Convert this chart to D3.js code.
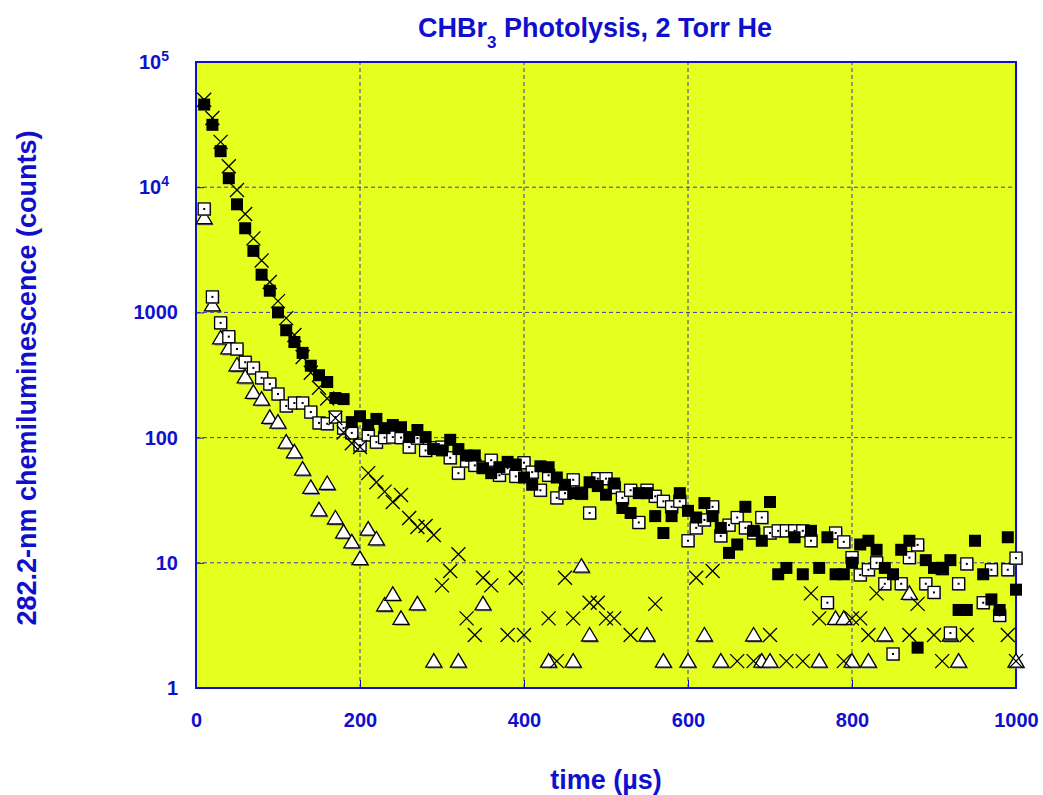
<!DOCTYPE html>
<html>
<head>
<meta charset="utf-8">
<script src="https://cdn.jsdelivr.net/npm/d3@7"></script>
<style>
  body { margin: 0; background: #fff; }
  svg text { font-family: "Liberation Sans", Arial, sans-serif; font-weight: bold; fill: #1010cc; }
</style>
</head>
<body>
<div id="chart"></div>
<script>
// time axis, µs (one point every 10 µs)
const times = d3.range(10, 1001, 10)

// filled squares
const filledSq = [45700, 31500, 19400, 11800, 7300, 4700, 3100, 2000, 1490, 1000,
  720, 580, 475, 375, 315, 278, 207, 203, 133, 148,
  126, 141, 119, 126, 121, 101, 115, 101, 81, 79,
  96, 81, 72, 72, 57, 52, 58, 64, 61, 48,
  42, 59, 58, 48, 42, 36, 36, 44, 41, 35,
  43, 27.4, 25, 36, 36, 23.6, 17.3, 23.6, 36, 26,
  23, 30, 23.6, 19, 12, 14, 28, 18, 15, 30.6,
  8.1, 9.1, 16, 8.1, 18, 9.1, 16, 8.1, 8.1, 10,
  14, 15, 12.7, 9.1, 8.1, 12.7, 15, 2.1, 10.5, 9.1,
  9.1, 10.5, 4.2, 4.2, 15, 8.1, 5.1, 4.2, 16, 6.1]

// open squares with a dot
const openSq = [6700, 1330, 825, 640, 510, 400, 360, 300, 268, 223,
  179, 189, 189, 160, 131, 129, 146, 119, 109, 87,
  105, 92, 100, 101, 100, 84, 99, 79, 83, 84,
  69, 52, 65, 60, 58, 66, 50, 57, 49, 63,
  53, 38, 50, 33, 36, 46, 36, 25, 47, 47,
  40, 33, 38, 21, 38, 34, 31, 28, 31, 15,
  19, 22, 28, 16.4, 20, 23, 19, 17.3, 23, 17.3,
  18, 18, 18, 18, 15, null, 4.8, 17.3, 14.7, 11,
  8, 8.8, 10, 6.8, 1.87, 6.8, 11, 13.9, 6.8, 5.8,
  9, 2.75, 6.8, 9.8, null, 4.8, 8.8, 3.8, 8.8, 10.9]

// open triangles
const triangles = [5700, 1150, 625, 520, 380, 305, 230, 203, 145, 133,
  92, 77, 56, 40, 26.5, 43, 22.8, 17.6, 14.7, 10.8,
  18.6, 15.5, 4.6, 5.6, 3.6, null, 4.7, null, 1.64, null,
  null, 1.64, null, null, 4.7, null, null, null, null, null,
  null, null, 1.64, null, null, 1.64, 9.4, 2.65, null, null,
  null, null, null, null, 2.65, null, 1.64, null, null, 1.64,
  null, 2.65, null, 1.64, null, null, null, 2.65, 1.64, 1.64,
  null, null, null, null, null, 1.64, null, 3.6, 3.6, 1.64,
  null, 1.64, null, 2.65, null, null, 5.7, null, null, null,
  null, 2.65, 1.64, null, null, null, null, null, null, 1.64]

// crosses
const crosses = [50000, 35700, 23000, 14700, 9500, 6100, 3900, 2600, 1750, 1230,
  900, 660, 440, 330, 250, 205, 143, 110, 90, 84,
  52, 44, 37, 30.6, 34.8, 22.8, 19.3, 19.7, 16.7, 6.6,
  8.6, 11.7, 3.6, 2.65, 7.6, 6.6, null, 2.65, 7.6, 2.65,
  null, null, 3.6, 1.64, 7.6, 3.6, null, 4.8, 4.8, 3.6,
  3.6, null, 2.65, null, null, 4.7, null, null, null, null,
  7.6, null, 8.6, null, null, 1.64, null, 1.64, null, 2.65,
  null, 1.64, null, 1.64, 5.7, 3.6, null, null, 1.64, 3.6,
  3.6, 2.65, 5.7, null, null, null, 2.65, 4.7, null, 2.65,
  1.64, null, null, 2.65, null, null, null, null, 2.65, 1.64]

const xTicks = [0, 200, 400, 600, 800, 1000]
const yTicks = [1, 10, 100, 1000, 1e4, 1e5]

const blue = '#1010cc'
const width = 1043
const height = 795
const margin = { left: 196, right: 27, top: 62, bottom: 107 }

const svg = d3.select('#chart')
  .append('svg')
  .attr('width', width)
  .attr('height', height)

const x = d3.scaleLinear().domain([0, 1000]).range([margin.left, width - margin.right])
const y = d3.scaleLog().domain([1, 1e5]).range([height - margin.bottom, margin.top])

// plot background
svg.append('rect')
  .attr('x', x(0)).attr('y', y(1e5))
  .attr('width', x(1000) - x(0)).attr('height', y(1) - y(1e5))
  .attr('fill', '#e5ff1f')

// grid
const grid = svg.append('g').attr('stroke', '#3b3ba0').attr('stroke-width', 1).attr('stroke-dasharray', '4,3')
grid.selectAll('.gx').data(xTicks.slice(1, -1)).enter().append('line')
  .attr('x1', d => x(d)).attr('x2', d => x(d))
  .attr('y1', y(1)).attr('y2', y(1e5))
grid.selectAll('.gy').data(yTicks.slice(1, -1)).enter().append('line')
  .attr('x1', x(0)).attr('x2', x(1000))
  .attr('y1', d => y(d)).attr('y2', d => y(d))

// axes
const xAxis = svg.append('g')
  .attr('transform', `translate(0,${y(1)})`)
  .call(d3.axisBottom(x).tickValues(xTicks).tickSize(-8).tickPadding(25).tickFormat(d3.format('d')))
xAxis.select('.domain').remove()
xAxis.selectAll('line').attr('stroke', blue)
xAxis.selectAll('text').attr('font-size', 20).attr('fill', blue)

const yAxis = svg.append('g')
  .attr('transform', `translate(${x(0)},0)`)
  .call(d3.axisLeft(y).tickValues(yTicks).tickSize(-8).tickPadding(18).tickFormat(d => d >= 1e4 ? '10' : String(d)))
yAxis.select('.domain').remove()
yAxis.selectAll('line').attr('stroke', blue)
yAxis.selectAll('text').attr('font-size', 20).attr('fill', blue).attr('dx', d => d >= 1e4 ? -9 : 0)
yAxis.selectAll('text').filter(d => d >= 1e4)
  .append('tspan')
  .attr('dy', '-0.6em')
  .attr('font-size', 14)
  .text(d => Math.round(Math.log10(d)))

// frame
svg.append('rect')
  .attr('x', x(0)).attr('y', y(1e5))
  .attr('width', x(1000) - x(0)).attr('height', y(1) - y(1e5))
  .attr('fill', 'none').attr('stroke', blue).attr('stroke-width', 2)

const clip = svg.append('clipPath').attr('id', 'plotclip')
clip.append('rect')
  .attr('x', x(0) - 10).attr('y', y(1e5) - 10)
  .attr('width', x(1000) - x(0) + 20).attr('height', y(1) - y(1e5) + 20)

const pts = arr => times.map((t, i) => ({ t, v: arr[i] })).filter(d => d.v != null && d.v > 0)

const marks = svg.append('g').attr('clip-path', 'url(#plotclip)')

// triangles
const tri = 'M0,-7.5L8,6L-8,6Z'
const gt = marks.append('g').selectAll('g').data(pts(triangles)).enter().append('g')
  .attr('transform', d => `translate(${x(d.t)},${y(d.v)})`)
gt.append('path').attr('d', tri).attr('transform', 'translate(1.5,1.5)').attr('fill', '#808080')
gt.append('path').attr('d', tri).attr('fill', '#fff').attr('stroke', '#000').attr('stroke-width', 1.3)

// open squares
const go = marks.append('g').selectAll('g').data(pts(openSq)).enter().append('g')
  .attr('transform', d => `translate(${x(d.t)},${y(d.v)})`)
go.append('rect').attr('x', -5).attr('y', -5).attr('width', 12).attr('height', 12).attr('fill', '#8a8a8a')
go.append('rect').attr('x', -6).attr('y', -6).attr('width', 12).attr('height', 12)
  .attr('fill', '#fff').attr('stroke', '#000').attr('stroke-width', 1.3)
go.append('rect').attr('x', -1).attr('y', -1).attr('width', 2).attr('height', 2).attr('fill', '#000')

// filled squares
marks.append('g').selectAll('rect').data(pts(filledSq)).enter().append('rect')
  .attr('x', d => x(d.t) - 6).attr('y', d => y(d.v) - 6)
  .attr('width', 12).attr('height', 12)
  .attr('fill', '#000')

// crosses
marks.append('g').selectAll('path').data(pts(crosses)).enter().append('path')
  .attr('transform', d => `translate(${x(d.t)},${y(d.v)})`)
  .attr('d', 'M-7,-7L7,7M-7,7L7,-7')
  .attr('stroke', '#000').attr('stroke-width', 1.3).attr('fill', 'none')

// title
const title = svg.append('text')
  .attr('x', 595).attr('y', 37)
  .attr('text-anchor', 'middle')
  .attr('font-size', 27)
title.append('tspan').text('CHBr')
title.append('tspan').attr('dy', 11).attr('font-size', 17).text('3')
title.append('tspan').attr('dy', -11).text(' Photolysis, 2 Torr He')

// axis titles
svg.append('text')
  .attr('x', 606).attr('y', 789)
  .attr('text-anchor', 'middle')
  .attr('font-size', 27)
  .text('time (µs)')

svg.append('text')
  .attr('transform', 'translate(36,378) rotate(-90)')
  .attr('text-anchor', 'middle')
  .attr('font-size', 27)
  .text('282.2-nm chemiluminescence (counts)')
</script>
</body>
</html>
